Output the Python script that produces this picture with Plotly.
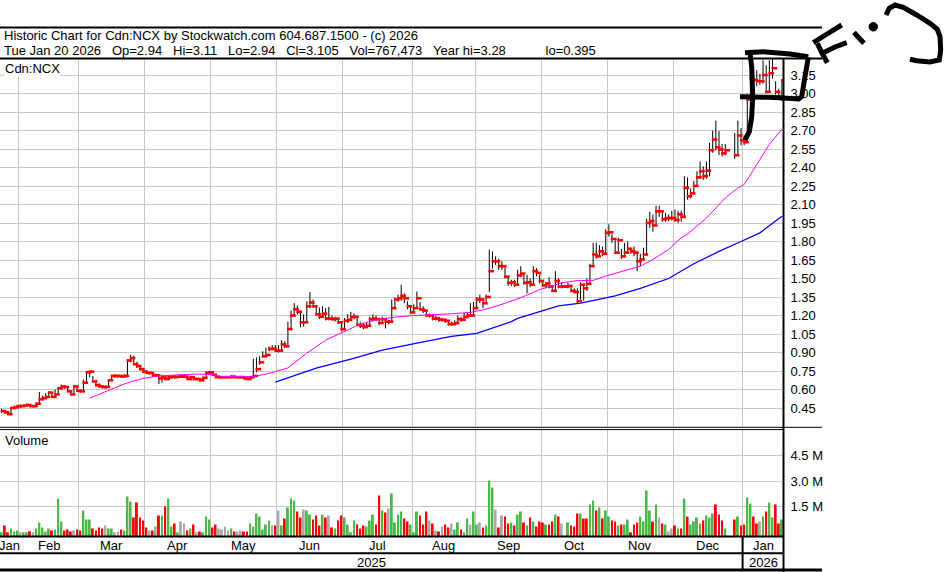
import plotly.graph_objects as go

W, H = 944, 572

# Datos diarios (precio de cierre, maximo, minimo), un renglon por mes
close = [
    0.425, 0.415, 0.40, 0.45, 0.455, 0.465,  # ene 2025
    0.465, 0.47, 0.475, 0.465, 0.465, 0.485, 0.52, 0.53, 0.54, 0.575, 0.54, 0.56, 0.61, 0.625, 0.62, 0.585, 0.56, 0.625, 0.59,
    0.585, 0.655, 0.74, 0.745, 0.665, 0.635, 0.625, 0.62, 0.62, 0.675, 0.71, 0.71, 0.71, 0.705, 0.71, 0.835, 0.855, 0.805, 0.79, 0.765, 0.745,
    0.735, 0.735, 0.715, 0.715, 0.69, 0.70, 0.685, 0.70, 0.705, 0.70, 0.705, 0.705, 0.705, 0.685, 0.70, 0.685, 0.685, 0.675, 0.695, 0.735, 0.74,
    0.72, 0.70, 0.70, 0.70, 0.70, 0.70, 0.705, 0.70, 0.70, 0.70, 0.69, 0.685, 0.70, 0.71, 0.765, 0.82, 0.87, 0.88, 0.93, 0.93, 0.915,
    0.915, 0.965, 0.95, 1.09, 1.20, 1.25, 1.23, 1.145, 1.145, 1.275, 1.305, 1.275, 1.21, 1.19, 1.215, 1.175, 1.175, 1.17, 1.175, 1.145, 1.09,
    1.157, 1.165, 1.187, 1.19, 1.125, 1.117, 1.106, 1.117, 1.17, 1.175, 1.17, 1.14, 1.17, 1.15, 1.15, 1.26, 1.33, 1.34, 1.36, 1.34, 1.275, 1.225,
    1.26, 1.34, 1.25, 1.24, 1.20, 1.20, 1.175, 1.175, 1.165, 1.165, 1.157, 1.13, 1.13, 1.14, 1.17, 1.165, 1.187, 1.20, 1.20, 1.26,
    1.33, 1.33, 1.30, 1.35, 1.56, 1.64, 1.64, 1.60, 1.60, 1.515, 1.465, 1.47, 1.45, 1.525, 1.54, 1.465, 1.47, 1.45, 1.56, 1.545, 1.48,
    1.445, 1.46, 1.435, 1.40, 1.48, 1.435, 1.435, 1.435, 1.44, 1.40, 1.39, 1.317, 1.45, 1.42, 1.457, 1.60, 1.695, 1.68, 1.72, 1.70, 1.87,
    1.875, 1.82, 1.71, 1.81, 1.68, 1.71, 1.74, 1.72, 1.71, 1.64, 1.655, 1.695, 1.95, 1.965, 1.93, 2.045, 2.045, 1.98, 1.99, 1.99, 1.99,
    1.975, 2.02, 2.0, 2.235, 2.167, 2.19, 2.25, 2.32, 2.37, 2.33, 2.375, 2.54, 2.627, 2.565, 2.546, 2.515, 2.54, None, None, 2.50, 2.66, 2.62,
    2.605, 2.95, 3.12, 3.11, 3.10, 3.10, 3.15, 3.015, 3.165, 3.205, 3.015, 2.98, 3.105,  # ene 2026
]
high = [
    0.445, 0.435, 0.425, 0.46, 0.47, 0.475,
    0.48, 0.48, 0.485, 0.48, 0.475, 0.495, 0.58, 0.55, 0.57, 0.585, 0.57, 0.60, 0.615, 0.64, 0.635, 0.62, 0.585, 0.635, 0.625,
    0.60, 0.68, 0.75, 0.755, 0.71, 0.68, 0.65, 0.635, 0.635, 0.685, 0.72, 0.725, 0.72, 0.715, 0.725, 0.845, 0.88, 0.875, 0.825, 0.80, 0.765,
    0.755, 0.745, 0.735, 0.73, 0.715, 0.72, 0.71, 0.715, 0.715, 0.71, 0.715, 0.715, 0.72, 0.705, 0.71, 0.705, 0.695, 0.69, 0.70, 0.745, 0.75,
    0.745, 0.72, 0.71, 0.71, 0.71, 0.705, 0.715, 0.71, 0.705, 0.705, 0.70, 0.695, 0.705, 0.85, 0.86, 0.87, 0.91, 0.94, 0.95, 0.96, 0.96,
    0.96, 1.0, 0.99, 1.15, 1.24, 1.30, 1.28, 1.24, 1.21, 1.315, 1.39, 1.33, 1.285, 1.265, 1.275, 1.26, 1.27, 1.20, 1.19, 1.18, 1.14,
    1.18, 1.21, 1.23, 1.215, 1.19, 1.15, 1.14, 1.14, 1.19, 1.21, 1.20, 1.18, 1.19, 1.17, 1.165, 1.33, 1.345, 1.37, 1.45, 1.38, 1.315, 1.27,
    1.29, 1.395, 1.31, 1.275, 1.23, 1.215, 1.20, 1.20, 1.19, 1.18, 1.17, 1.16, 1.15, 1.16, 1.20, 1.19, 1.22, 1.23, 1.30, 1.31,
    1.35, 1.37, 1.33, 1.37, 1.735, 1.72, 1.68, 1.66, 1.64, 1.60, 1.51, 1.49, 1.49, 1.57, 1.60, 1.53, 1.53, 1.50, 1.60, 1.585, 1.53,
    1.49, 1.47, 1.51, 1.44, 1.56, 1.50, 1.47, 1.45, 1.47, 1.44, 1.42, 1.42, 1.47, 1.44, 1.50, 1.62, 1.79, 1.79, 1.77, 1.76, 1.90,
    1.94, 1.86, 1.81, 1.83, 1.74, 1.79, 1.80, 1.75, 1.76, 1.71, 1.70, 1.75, 1.985, 2.04, 2.02, 2.09, 2.09, 2.04, 2.03, 2.02, 2.05,
    2.06, 2.05, 2.05, 2.33, 2.32, 2.23, 2.29, 2.37, 2.45, 2.41, 2.45, 2.60, 2.70, 2.78, 2.695, 2.59, 2.59, None, None, 2.68, 2.78, 2.72,
    2.66, 3.0, 3.16, 3.15, 3.19, 3.16, 3.27, 3.23, 3.27, 3.28, 3.10, 3.04, 3.11,
]
low = [
    0.41, 0.405, 0.395, 0.41, 0.44, 0.45,
    0.455, 0.46, 0.465, 0.46, 0.46, 0.465, 0.485, 0.515, 0.525, 0.54, 0.535, 0.545, 0.56, 0.60, 0.605, 0.58, 0.555, 0.56, 0.585,
    0.575, 0.59, 0.65, 0.70, 0.655, 0.625, 0.615, 0.61, 0.61, 0.625, 0.67, 0.695, 0.695, 0.695, 0.70, 0.70, 0.82, 0.80, 0.775, 0.755, 0.735,
    0.73, 0.72, 0.705, 0.705, 0.645, 0.655, 0.675, 0.68, 0.69, 0.69, 0.695, 0.695, 0.695, 0.68, 0.685, 0.675, 0.675, 0.665, 0.67, 0.69, 0.72,
    0.715, 0.695, 0.695, 0.695, 0.695, 0.695, 0.70, 0.695, 0.695, 0.69, 0.685, 0.68, 0.685, 0.70, 0.74, 0.80, 0.855, 0.87, 0.91, 0.915, 0.905,
    0.90, 0.91, 0.94, 0.95, 1.08, 1.19, 1.21, 1.105, 1.11, 1.14, 1.26, 1.26, 1.20, 1.17, 1.18, 1.16, 1.16, 1.16, 1.15, 1.13, 1.07,
    1.08, 1.14, 1.16, 1.17, 1.115, 1.10, 1.09, 1.10, 1.11, 1.15, 1.155, 1.12, 1.13, 1.095, 1.13, 1.145, 1.25, 1.31, 1.32, 1.30, 1.25, 1.21,
    1.22, 1.26, 1.24, 1.22, 1.19, 1.185, 1.16, 1.16, 1.15, 1.15, 1.14, 1.12, 1.12, 1.12, 1.13, 1.15, 1.16, 1.18, 1.19, 1.20,
    1.25, 1.30, 1.26, 1.29, 1.39, 1.58, 1.61, 1.57, 1.57, 1.50, 1.44, 1.44, 1.43, 1.45, 1.51, 1.45, 1.38, 1.43, 1.45, 1.52, 1.46,
    1.43, 1.42, 1.42, 1.39, 1.40, 1.42, 1.42, 1.43, 1.42, 1.39, 1.38, 1.30, 1.33, 1.32, 1.40, 1.45, 1.60, 1.66, 1.68, 1.68, 1.70,
    1.84, 1.79, 1.70, 1.72, 1.66, 1.68, 1.70, 1.70, 1.68, 1.56, 1.60, 1.65, 1.69, 1.91, 1.88, 1.93, 2.0, 1.96, 1.96, 1.965, 1.97,
    1.96, 1.95, 1.96, 2.0, 2.14, 2.15, 2.19, 2.25, 2.31, 2.30, 2.31, 2.33, 2.52, 2.54, 2.50, 2.49, 2.50, None, None, 2.47, 2.50, 2.58,
    2.58, 2.62, 2.95, 3.03, 3.06, 3.07, 3.08, 3.0, 3.02, 3.12, 2.99, 2.95, 2.94,
]

# Volumen en miles y sentido de la barra (u = sube, d = baja, n = sin cambio, x = sin dato)
volume = [
    20, 410, 10, 234, 59, 117,
    10, 10, 10, 78, 20, 234, 585, 293, 59, 234, 117, 176, 1989, 644, 117, 176, 59, 117, 176,
    117, 1287, 761, 761, 234, 117, 293, 234, 410, 234, 234, 10, 59, 176, 117, 2106, 1814, 878, 1755, 878, 702,
    293, 117, 117, 351, 995, 995, 1521, 1989, 351, 527, 10, 644, 527, 117, 234, 468, 10, 59, 10, 936, 761,
    293, 468, 234, 176, 351, 117, 234, 59, 59, 117, 59, 59, 527, 351, 1112, 936, 176, 468, 702, 410, 410,
    1287, 410, 819, 1463, 1989, 1872, 1229, 878, 1346, 1287, 1053, 761, 995, 410, 1053, 878, 995, 293, 234, 702, 995,
    878, 468, 10, 702, 468, 234, 410, 351, 702, 1053, 468, 2165, 1287, 1170, 1404, 2282, 585, 1053, 1229, 819, 644, 468,
    10, 1229, 995, 468, 1229, 702, 527, 117, 59, 351, 468, 293, 527, 176, 585, 176, 10, 819, 468, 1229,
    468, 585, 293, 410, 3042, 2633, 1346, 293, 995, 936, 527, 585, 410, 1053, 1229, 585, 410, 878, 644, 351, 644,
    585, 468, 468, 644, 1053, 936, 527, None, 585, 410, 351, 1112, 1112, 819, 819, 1638, 1872, 1287, 1463, 819, 1287,
    936, 702, 644, 410, 468, 468, 761, 10, 468, 585, 936, 644, 2457, 1287, 644, 1638, 878, 527, 468, 59, 234,
    410, 234, 234, 1989, 936, 468, 644, 878, 527, 702, 995, 878, 1112, 1638, 1053, 702, 234, None, None, 761, 936, 410,
    468, 2048, 1697, 936, 527, 644, 936, 1229, 1755, 878, 1638, 527, 767,
]
vol_dir = ("udduuu" "nuudnuuuuuduuudddnd" "duuuddddnuunnduuudddd" "dndnduduudunndudnduuu"
           "ddnnnnudnndduuuuuuund" "nuduuuddnuudddudndudd" "uuuuddduuuddudnuuuuddu"
           "uudddndndnddnuuduunu" "unduuundndd" "uduudududd" "duddudnxudddudduududu"
           "udduduuddduuuudundunn" "dududuuuuduuudddu" "xx" "dud" "duuddnuduuddu")

# Promedios moviles (indice de barra, precio)
ma_fast_x = [28, 34, 40, 45, 50, 57, 63, 67, 70, 80, 85, 91, 97, 103, 109, 114, 119, 125, 130, 136, 143, 149,
             153, 158, 165, 171, 178, 183, 188, 192, 199, 203, 207, 212, 216, 218, 224, 230, 234, 236, 240, 244, 248]
ma_fast_y = [0.53, 0.595, 0.655, 0.69, 0.71, 0.72, 0.725, 0.72, 0.705, 0.705, 0.73, 0.775, 0.895, 1.00, 1.07,
             1.13, 1.165, 1.187, 1.198, 1.203, 1.214, 1.225, 1.246, 1.282, 1.344, 1.41, 1.465, 1.484, 1.485,
             1.52, 1.568, 1.60, 1.655, 1.735, 1.83, 1.86, 1.99, 2.153, 2.235, 2.262, 2.424, 2.587, 2.71]
ma_slow_x = [87, 90, 100, 111, 121, 132, 143, 151, 162, 164, 177, 184, 195, 203, 212, 220, 228, 235, 241, 248]
ma_slow_y = [0.66, 0.685, 0.774, 0.847, 0.92, 0.977, 1.03, 1.056, 1.15, 1.177, 1.278, 1.30, 1.36, 1.42,
             1.50, 1.62, 1.72, 1.80, 1.87, 2.005]

month_names = ["Jan", "Feb", "Mar", "Apr", "May", "Jun", "Jul", "Aug", "Sep", "Oct", "Nov", "Dec", "Jan"]
month_start = [0, 6, 25, 46, 67, 88, 109, 131, 151, 172, 193, 214, 236]
year_names = ["2025", "2026"]
year_start = [0, 236]

price_ticks = [0.45, 0.60, 0.75, 0.90, 1.05, 1.20, 1.35, 1.50, 1.65, 1.80, 1.95, 2.10, 2.25, 2.40, 2.55, 2.70, 2.85, 3.00, 3.15]
vol_ticks = [1500, 3000, 4500]
vol_labels = ["1.5 M", "3.0 M", "4.5 M"]

header1 = "Historic Chart for Cdn:NCX by Stockwatch.com 604.687.1500 - (c) 2026"
header2_fields = ["Tue Jan 20 2026", "Op=2.94", "Hi=3.11", "Lo=2.94", "Cl=3.105", "Vol=767,473", "Year hi=3.28"]
header2_tail = "lo=0.395"

n = len(close)
FONT = "Liberation Sans, Arial, sans-serif"
GRID = "#c8c8c8"
vol_floor = -205
dir_color = {"u": "#4cb848", "d": "#ff0000", "n": "#a9a9a9", "x": "#ffffff"}
NB = "\u00a0"


def py(y):
    return 1 - y / H


# Barras maximo-minimo
seg_x, seg_y = [], []
for i in range(n):
    if high[i] is None:
        continue
    seg_x += [i, i, None]
    seg_y += [low[i], high[i], None]

cl_idx = [i for i in range(n) if close[i] is not None]

fig = go.Figure()
fig.add_trace(go.Scatter(x=seg_x, y=seg_y, mode="lines", line=dict(color="black", width=1),
                         xaxis="x", yaxis="y", hoverinfo="skip"))
fig.add_trace(go.Scatter(x=[i + 0.6 for i in cl_idx], y=[close[i] for i in cl_idx], mode="markers",
                         marker=dict(symbol="line-ew", size=4, line=dict(color="#ff0000", width=2.6)),
                         xaxis="x", yaxis="y"))
fig.add_trace(go.Scatter(x=ma_fast_x, y=ma_fast_y, mode="lines", line=dict(color="#ff00ff", width=1),
                         xaxis="x", yaxis="y"))
fig.add_trace(go.Scatter(x=ma_slow_x, y=ma_slow_y, mode="lines", line=dict(color="#0000ff", width=1.3),
                         xaxis="x", yaxis="y"))

# Volumen
fig.add_trace(go.Bar(x=list(range(n)), y=[None if v is None else v - vol_floor for v in volume],
                     base=vol_floor, width=0.62, marker=dict(color=[dir_color[d] for d in vol_dir], line_width=0),
                     xaxis="x2", yaxis="y2"))

grid_x = [s - 0.5 for s in month_start[1:]]
x_dom = [0, 783.5 / W]
xcommon = dict(range=[-0.5, n - 0.5], domain=x_dom, tickvals=grid_x, showticklabels=False,
               showgrid=True, gridcolor=GRID, gridwidth=1, zeroline=False, ticks="", fixedrange=True)

fig.update_layout(
    width=W, height=H,
    margin=dict(l=0, r=0, t=0, b=0),
    paper_bgcolor="white", plot_bgcolor="white",
    showlegend=False,
    font=dict(family=FONT, size=13, color="black"),
    xaxis=dict(anchor="y", **xcommon),
    xaxis2=dict(anchor="y2", **xcommon),
    yaxis=dict(domain=[py(427), py(59)], range=[0.296, 3.28], side="right", tickvals=price_ticks,
               tickformat=".2f", showgrid=True, gridcolor=GRID, zeroline=False, ticks="",
               ticklabelstandoff=6, tickfont=dict(size=13), anchor="x"),
    yaxis2=dict(domain=[py(536), py(430)], range=[vol_floor, 6000], side="right", tickvals=vol_ticks,
                ticktext=vol_labels, showgrid=True, gridcolor=GRID, zeroline=False, ticks="",
                ticklabelstandoff=6, tickfont=dict(size=13), anchor="x2"),
)

shapes = []


def hline(y, x1, w):
    shapes.append(dict(type="line", xref="paper", yref="paper", x0=0, x1=x1 / W, y0=py(y), y1=py(y),
                       line=dict(color="black", width=w)))


hline(27.5, 822, 2)
hline(58.5, 822, 2)
hline(427.3, 822, 1)
hline(429.6, 784, 1)
hline(536.5, 784, 2)
hline(553.3, 784, 2)
hline(570, 822, 3)
shapes.append(dict(type="line", xref="paper", yref="paper", x0=783.5 / W, x1=783.5 / W, y0=py(58), y1=0,
                   line=dict(color="black", width=2)))
shapes.append(dict(type="line", xref="x2", yref="paper", x0=year_start[1] - 0.5, x1=year_start[1] - 0.5,
                   y0=py(537), y1=py(570), line=dict(color="black", width=2)))

# Trazos a mano sobre la imagen
hand_strokes = [
    [(750, 53), (751.7, 66.7), (752.7, 96.7), (751.7, 116.7), (749.3, 131.7), (745, 140)],
    [(745, 52.7), (763.3, 51.7), (790, 54), (808.3, 56.7)],
    [(808.3, 57.3), (805, 76.7), (801.7, 96.7), (798.3, 99.3)],
    [(740, 96.7), (770, 97.3), (800, 99)],
    [(813.3, 42.7), (827, 34), (841.7, 25)],
    [(817.3, 43.3), (822, 53), (827.3, 62.7)],
    [(823.3, 52.7), (835, 47), (846.7, 42.7)],
    [(854, 32.3), (859, 38), (864, 43.3)],
    [(886, 15), (889.3, 8.3), (895, 5), (903.3, 7.3), (916.7, 15), (930, 23.3), (937.3, 29.3),
     (940, 36.7), (940.7, 50), (939.3, 60), (930, 62), (916.7, 60.7), (910, 59.3)],
]
for stroke in hand_strokes:
    path = "M " + " L ".join(f"{x / W:.5f},{py(y):.5f}" for x, y in stroke)
    shapes.append(dict(type="path", xref="paper", yref="paper", path=path,
                       line=dict(color="black", width=5)))
shapes.append(dict(type="circle", xref="paper", yref="paper", x0=869 / W, x1=877.5 / W,
                   y0=py(31), y1=py(22.5), fillcolor="black", line=dict(color="black", width=1)))

fig.update_layout(shapes=shapes)

ann = []


def text(x, y, s, xanchor="left", xref="paper", bg=None):
    d = dict(x=x, y=py(y), xref=xref, yref="paper", text=s, showarrow=False, xanchor=xanchor,
             yanchor="middle", font=dict(family=FONT, size=13, color="black"))
    if bg:
        d["bgcolor"] = bg
        d["borderpad"] = 0
    ann.append(d)


header2 = (NB * 3).join(header2_fields) + NB * 11 + header2_tail
text(1.5 / W, 35.5, header1)
text(1.5 / W, 50.5, header2)
text(4 / W, 68.5, "Cdn:NCX", bg="white")
text(4 / W, 440.5, "Volume", bg="white")

ends = month_start[1:] + [n]
for name, a, b in zip(month_names, month_start, ends):
    text((a + b) / 2 - 0.5, 545, name, xanchor="center", xref="x2")
yends = year_start[1:] + [n]
for name, a, b in zip(year_names, year_start, yends):
    text((a + b) / 2 - 0.5, 562, name, xanchor="center", xref="x2")

fig.update_layout(annotations=ann)

# sin margen del body ni barra de herramientas
fig.write_html("out.html", config={"displayModeBar": False},
               post_script="document.body.style.margin='0';")
